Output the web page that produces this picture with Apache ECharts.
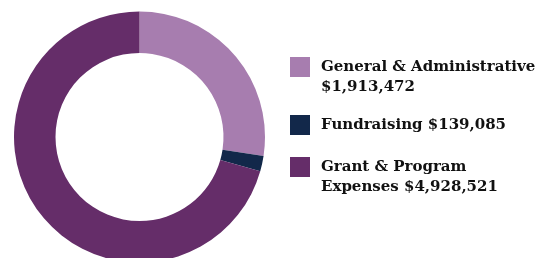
<!DOCTYPE html>
<html>
<head>
<meta charset="utf-8">
<script src="https://cdn.jsdelivr.net/npm/echarts@6/dist/echarts.min.js"></script>
<style>
  html, body { margin: 0; padding: 0; background: #fff; }
  #chart { width: 537px; height: 258px; }
</style>
</head>
<body>
<div id="chart"></div>
<script>
  var categories = ['General & Administrative', 'Fundraising', 'Grant & Program Expenses'];
  var amounts = [1913472, 139085, 4928521];
  var colors = ['#a77daf', '#12284a', '#652d69'];
  // how each legend label is broken into lines
  var legendText = [
    'General & Administrative\n$1,913,472',
    'Fundraising $139,085',
    'Grant & Program\nExpenses $4,928,521'
  ];

  var chart = echarts.init(document.getElementById('chart'));

  var pieData = categories.map(function (c, i) {
    return { name: c, value: amounts[i], itemStyle: { color: colors[i] } };
  });

  var legendTops = [37, 115, 137];
  var legends = categories.map(function (c, i) {
    var twoLines = legendText[i].indexOf('\n') >= 0;
    return {
      data: [c],
      left: 290,
      top: legendTops[i],
      padding: 0,
      orient: 'vertical',
      icon: 'rect',
      itemWidth: 20,
      itemHeight: 20,
      selectedMode: false,
      // a blank first line keeps the icon level with the first text line
      formatter: function () { return twoLines ? ' \n' + legendText[i] : legendText[i]; },
      textStyle: {
        fontFamily: 'DejaVu Serif',
        fontWeight: 'bold',
        fontSize: 15,
        lineHeight: 20,
        color: '#111',
        padding: [0, 0, 0, 6]
      }
    };
  });

  var option = {
    animation: false,
    legend: legends,
    series: [{
      type: 'pie',
      center: [139.5, 137],
      radius: [84, 125.5],
      startAngle: 90,
      clockwise: true,
      label: { show: false },
      labelLine: { show: false },
      emphasis: { disabled: true },
      itemStyle: { borderWidth: 0 },
      data: pieData
    }]
  };

  chart.setOption(option);
</script>
</body>
</html>
